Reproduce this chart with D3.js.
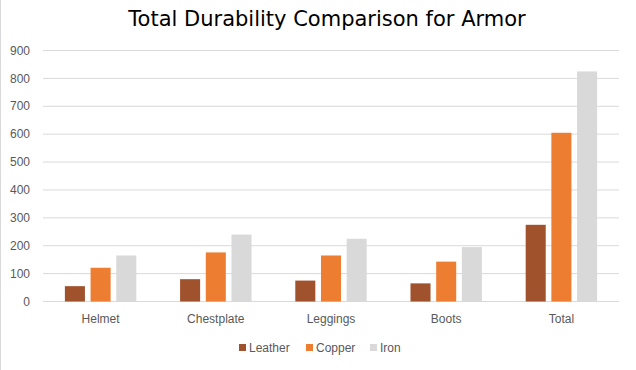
<!DOCTYPE html>
<html>
<head>
<meta charset="utf-8">
<script src="https://cdn.jsdelivr.net/npm/d3@7"></script>
<style>
  body { margin: 0; background: #fff; }
  text { font-family: "Liberation Sans", Arial, sans-serif; }
</style>
</head>
<body>
<div id="chart"></div>
<script>
const categories = ["Helmet", "Chestplate", "Leggings", "Boots", "Total"]
const seriesNames = ["Leather", "Copper", "Iron"]
const leather = [55, 80, 75, 65, 275]
const copper = [121, 176, 165, 143, 605]
const iron = [165, 240, 225, 195, 825]
const yTicks = [0, 100, 200, 300, 400, 500, 600, 700, 800, 900]
const colors = ["#A0522D", "#ED7D31", "#D9D9D9"]

const W = 636, H = 370
const margin = { left: 43, right: 17, top: 50.5, bottom: 68.5 }

const svg = d3.select("#chart").append("svg")
    .attr("width", W)
    .attr("height", H)

// left edge line of the chart frame
svg.append("line")
    .attr("x1", 0.5).attr("x2", 0.5)
    .attr("y1", 0).attr("y2", H)
    .attr("stroke", "#d9d9d9")

let x0 = d3.scaleBand()
    .domain(categories)
    .range([margin.left, W - margin.right])
    .paddingInner(0.38)
    .paddingOuter(0.19)

let x1 = d3.scaleBand()
    .domain(seriesNames)
    .range([0, x0.bandwidth()])
    .paddingInner(0.22)

let y = d3.scaleLinear()
    .domain([0, 900])
    .range([H - margin.bottom, margin.top])

// gridlines
svg.append("g")
    .selectAll("line")
    .data(yTicks)
    .join("line")
    .attr("x1", margin.left)
    .attr("x2", W - margin.right)
    .attr("y1", d => y(d))
    .attr("y2", d => y(d))
    .attr("stroke", "#d9d9d9")
    .attr("stroke-width", 1)

// y labels
svg.append("g")
    .selectAll("text")
    .data(yTicks)
    .join("text")
    .attr("x", 30)
    .attr("y", d => y(d))
    .attr("dy", "0.35em")
    .attr("text-anchor", "end")
    .attr("fill", "#595959")
    .attr("font-size", 12)
    .text(d => d)

const rows = categories.map((c, i) => ({ cat: c, vals: [leather[i], copper[i], iron[i]] }))

svg.append("g")
    .selectAll("g")
    .data(rows)
    .join("g")
    .attr("transform", d => `translate(${x0(d.cat)},0)`)
    .selectAll("rect")
    .data(d => d.vals.map((v, j) => ({ name: seriesNames[j], v, j })))
    .join("rect")
    .attr("x", d => x1(d.name))
    .attr("width", x1.bandwidth())
    .attr("y", d => y(d.v))
    .attr("height", d => y(0) - y(d.v))
    .attr("fill", d => colors[d.j])

// x labels
svg.append("g")
    .selectAll("text")
    .data(categories)
    .join("text")
    .attr("x", d => x0(d) + x0.bandwidth() / 2)
    .attr("y", 323)
    .attr("text-anchor", "middle")
    .attr("fill", "#595959")
    .attr("font-size", 12)
    .text(d => d)

// title
svg.append("text")
    .attr("x", W / 2 + 9)
    .attr("y", 26)
    .attr("text-anchor", "middle")
    .attr("fill", "#000")
    .attr("font-size", 21)
    .style("font-family", "'DejaVu Sans', sans-serif")
    .text("Total Durability Comparison for Armor")

// legend
const legendX = [239, 306, 370]
let legend = svg.append("g")
    .selectAll("g")
    .data(seriesNames)
    .join("g")
    .attr("transform", (d, i) => `translate(${legendX[i]},348)`)

legend.append("rect")
    .attr("x", 0).attr("y", -4)
    .attr("width", 7).attr("height", 7)
    .attr("fill", (d, i) => colors[i])

legend.append("text")
    .attr("x", 10)
    .attr("y", 0)
    .attr("dy", "0.35em")
    .attr("fill", "#595959")
    .attr("font-size", 12)
    .text(d => d)
</script>
</body>
</html>
